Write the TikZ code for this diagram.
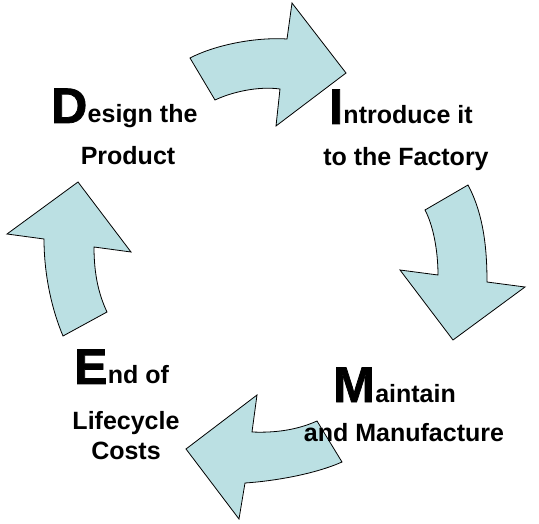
\documentclass[tikz,border=0pt]{standalone}
\usepackage{fontspec}
\setmainfont{Liberation Sans}
\newfontfamily\heavyfont{Liberation Sans Bold}[FakeBold=1.5]
\begin{document}
\begin{tikzpicture}[x=1pt,y=-1pt,
  arrowshape/.style={fill={rgb,255:red,187;green,224;blue,227}, draw=black, line width=0.8pt, line join=miter},
  small/.style={inner sep=0pt, font=\fontsize{25}{30}\selectfont\bfseries},
  big/.style={inner sep=0pt, font=\fontsize{50}{60}\heavyfont}]
\useasboundingbox (0,0) rectangle (539,524);
% top arrow
\draw[arrowshape] (190,58) .. controls (215,45) and (255,37) .. (287,39) -- (292,3) -- (346,73) -- (276,126) -- (280,89) .. controls (258,86) and (232,92) .. (215,100) -- cycle;
% right arrow
\draw[arrowshape] (425,210) .. controls (433,225) and (438,250) .. (438,275) -- (400,270) -- (453,340) -- (525,287) -- (487,282) .. controls (487,250) and (484,215) .. (468,185) -- cycle;
% bottom arrow
\draw[arrowshape] (317,421) .. controls (297,430) and (275,433) .. (252,432) -- (257,395) -- (186,449) -- (239,519) -- (245,483) .. controls (275,481) and (315,474) .. (342,462) -- cycle;
% left arrow
\draw[arrowshape] (78,182) -- (7,234) -- (44,239) .. controls (44,275) and (52,310) .. (63,336) -- (107,312) .. controls (99,295) and (94,275) .. (94,247) -- (131,252) -- cycle;
% texts
\node[big, anchor=base west] (dD) at (51,123) {D};
\node[small, anchor=base west] (d1) at (dD.base east) {esign the};
\node[small, anchor=base] (d2) at (128,165) {Product};
\node[big, anchor=base west] (iI) at (329,124) {I};
\node[small, anchor=base west] (i1) at (iI.base east) {ntroduce it};
\node[small, anchor=base] (i2) at (406,166) {to the Factory};
\node[big, anchor=base west] (mM) at (333,402) {M};
\node[small, anchor=base west] (m1) at (mM.base east) {aintain};
\node[small, anchor=base] (m2) at (404,441) {and Manufacture};
\node[big, anchor=base west] (eE) at (74,384) {E};
\node[small, anchor=base west] (e1) at (eE.base east) {nd of};
\node[small, anchor=base] (e2) at (126,429) {Lifecycle};
\node[small, anchor=base] (e3) at (126,459) {Costs};
\end{tikzpicture}
\end{document}
